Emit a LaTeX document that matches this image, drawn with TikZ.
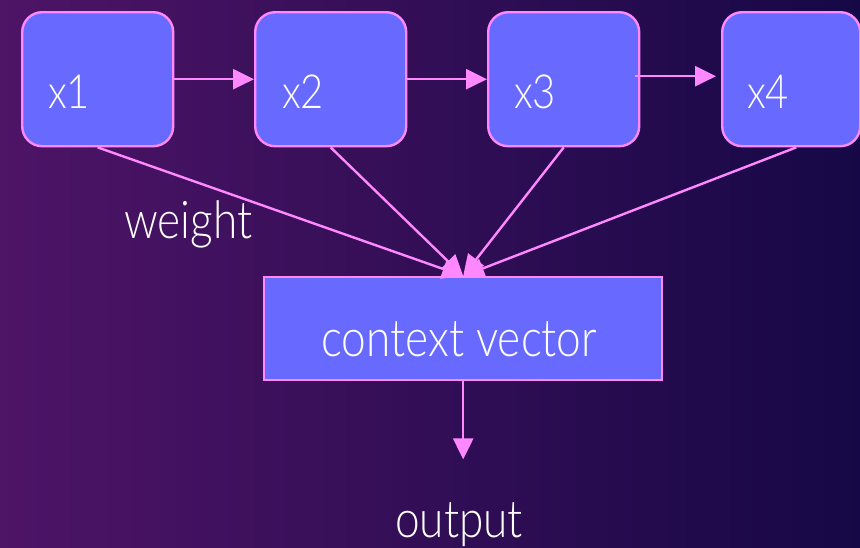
\documentclass[tikz,border=0pt]{standalone}
\usepackage{fontspec}
\setmainfont{Lato Light}[FakeStretch=0.85]
\usetikzlibrary{arrows.meta}
\definecolor{bgL}{HTML}{4E1466}
\definecolor{bgR}{HTML}{160846}
\definecolor{boxfill}{HTML}{686AFF}
\definecolor{pinkline}{HTML}{FF88FF}
\begin{document}
\begin{tikzpicture}[x=1pt,y=-1pt,
  box/.style={draw=pinkline, line width=2.4pt, fill=boxfill, rounded corners=20pt, minimum width=151pt, minimum height=134pt, inner sep=0pt, anchor=north west},
  ctxbox/.style={draw=pinkline, line width=2.4pt, fill=boxfill, minimum width=398pt, minimum height=103pt, inner sep=0pt, anchor=north west},
  lab/.style={text=white, font=\fontsize{47}{47}\selectfont, inner sep=0pt},
  biglab/.style={text=white, font=\fontsize{52}{52}\selectfont, inner sep=0pt},
  conn/.style={draw=pinkline, line width=2.4pt, -{Triangle[length=21pt,width=20pt]}}
]
\useasboundingbox (0,0) rectangle (860,547);
\shade[left color=bgL, right color=bgR] (0,0) rectangle (860,547);

\node[box] (x1) at (21,11) {};
\node[box] (x2) at (254,11) {};
\node[box] (x3) at (487,11) {};
\node[box, minimum width=138pt] (x4) at (721,11) {};
\node[ctxbox] (ctx) at (263,276) {};

\node[lab, anchor=base west] (t1) at ([shift={(27pt,39pt)}]x1.south west) {x1};
\node[lab, anchor=base west] (t2) at ([shift={(28pt,39pt)}]x2.south west) {x2};
\node[lab, anchor=base west] (t3) at ([shift={(27pt,39pt)}]x3.south west) {x3};
\node[lab, anchor=base west] (t4) at ([shift={(26pt,39pt)}]x4.south west) {x4};
\node[biglab, anchor=base] (ctxt) at ([shift={(-4pt,25pt)}]ctx.south) {context vector};
\node[biglab, anchor=base west] (w) at (124,238) {weight};
\node[biglab, anchor=base] (out) at (459,537) {output};
\coordinate (oend) at ([yshift=-78pt]ctx.south);

\draw[conn] (x1.east) -- (x2.west);
\draw[conn] (x2.east) -- (x3.west);
\draw[conn] ([shift={(-5pt,3pt)}]x3.east) -- ([shift={(-5pt,3pt)}]x4.west);
\draw[conn] (x1.south) -- (ctx.north);
\draw[conn] (x2.south) -- (ctx.north);
\draw[conn] (x3.south) -- (ctx.north);
\draw[conn] ([xshift=5pt]x4.south) -- (ctx.north);
\draw[conn] (ctx.south) -- (oend);
\end{tikzpicture}
\end{document}
